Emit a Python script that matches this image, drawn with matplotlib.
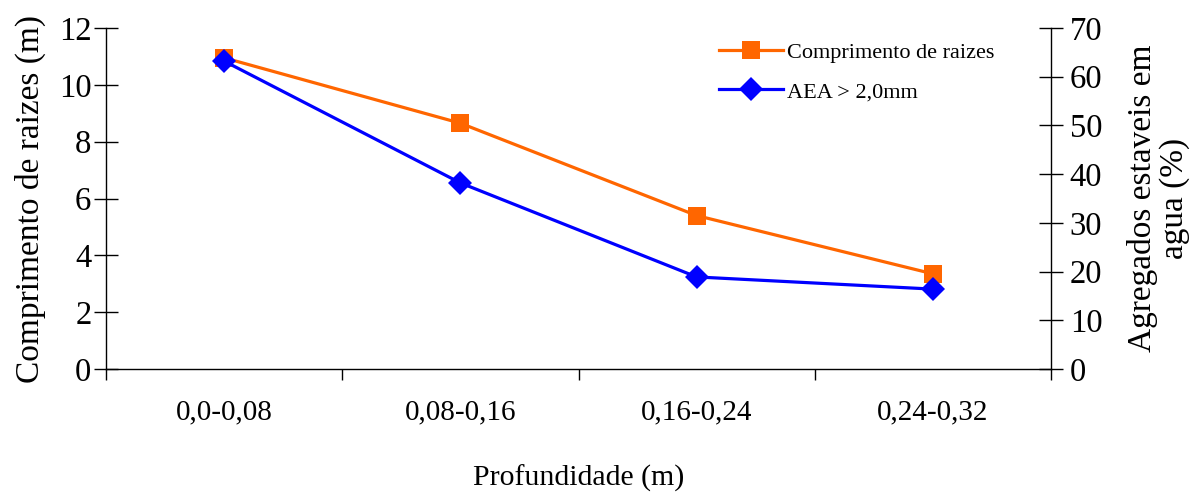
import matplotlib
matplotlib.use("Agg")
import matplotlib.pyplot as plt
import numpy as np

categories = ["0,0-0,08", "0,08-0,16", "0,16-0,24", "0,24-0,32"]
comprimento_raizes = [10.95, 8.65, 5.4, 3.35]
aea_2mm = [63.2, 38.2, 18.9, 16.4]

plt.rcParams["font.family"] = ["Liberation Serif", "DejaVu Serif"]

fig = plt.figure(figsize=(11.97, 4.93), dpi=100)
ax = fig.add_axes([0.0886, 0.2515, 0.7894, 0.6917])
ax2 = ax.twinx()

x = np.arange(len(categories))

l1, = ax.plot(x, comprimento_raizes, color="#FF6600", lw=2.3, marker="s",
              markersize=13, markeredgewidth=0, label="Comprimento de raizes")
l2, = ax2.plot(x, aea_2mm, color="#0000FF", lw=2.3, marker="D",
               markersize=12, markeredgewidth=0, label="AEA > 2,0mm")

ax.set_xlim(-0.5, len(categories) - 0.5)
ax.set_ylim(0, 12)
ax2.set_ylim(0, 70)
ax.set_yticks(np.arange(0, 13, 2))
ax2.set_yticks(np.arange(0, 71, 10))

# category boundaries as major ticks, labels on minor ticks at centers
ax.set_xticks(np.arange(-0.5, len(categories), 1.0))
ax.set_xticklabels([])
ax.set_xticks(x, minor=True)
ax.set_xticklabels(categories, minor=True, fontsize=21)
ax.tick_params(axis="x", which="minor", length=0, pad=22)
ax.tick_params(axis="x", which="major", direction="out", length=8, width=1)

ax.tick_params(axis="y", direction="inout", length=17, width=1, labelsize=23.5, pad=2)
ax2.tick_params(axis="y", direction="inout", length=17, width=1, labelsize=23.5, pad=5)

for a in (ax, ax2):
    a.spines["top"].set_visible(False)
    for s in ("left", "right", "bottom"):
        a.spines[s].set_linewidth(1)
ax.spines["right"].set_visible(False)
ax2.spines["left"].set_visible(False)
ax2.spines["bottom"].set_visible(False)

ax.set_ylabel("Comprimento de raizes (m)", fontsize=24, labelpad=9)
ax2.set_ylabel("Agregados estaveis em\nagua (%)", fontsize=24, labelpad=18,
               linespacing=1.05)
ax.set_xlabel("Profundidade (m)", fontsize=21.5, labelpad=28)

ax2.legend(handles=[l1, l2], loc="upper left", bbox_to_anchor=(0.628, 1.017),
           frameon=False, fontsize=16, handlelength=2.85, handletextpad=0.2,
           labelspacing=0.85)

fig.savefig("out.png", dpi=100)
